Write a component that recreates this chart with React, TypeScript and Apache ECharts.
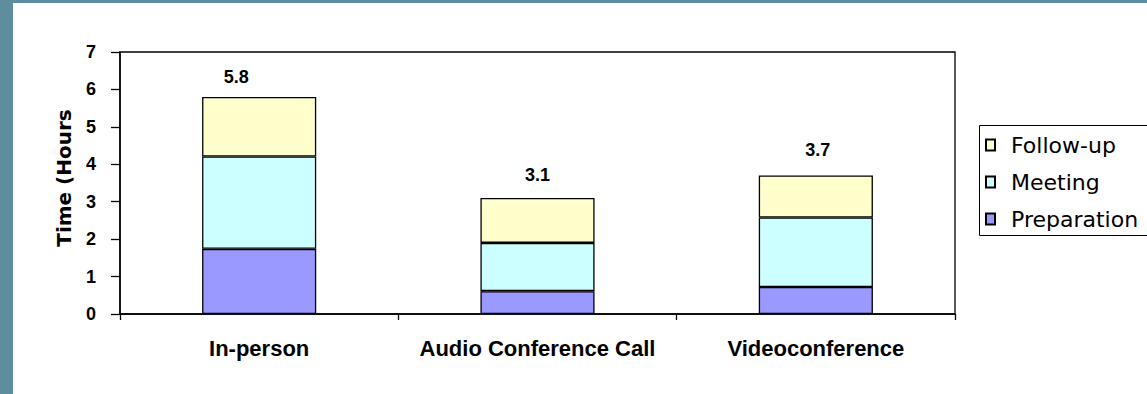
import React, { useEffect, useRef } from "react";
import * as echarts from "echarts";

// Time spent per meeting format, in hours
const categories = ["In-person", "Audio Conference Call", "Videoconference"];
const preparation = [1.74, 0.61, 0.72];
const meeting = [2.47, 1.29, 1.86];
const followUp = [1.59, 1.2, 1.12];
const yTicks = [0, 7, 1]; // min, max, interval

const totals = categories.map((_, i) => preparation[i] + meeting[i] + followUp[i]);

const W = 1147;
const H = 394;

export default function App() {
  const ref = useRef<HTMLDivElement>(null);

  useEffect(() => {
    if (!ref.current) return;
    const chart = echarts.init(ref.current, null, { renderer: "svg" });

    const barBorder = { borderColor: "#000", borderWidth: 1.3 };
    // per-bar placement of the total labels
    const labelDistance = [11, 14, 17];
    const labelOffset = [[-23, 0], [0, 0], [2, 0]];

    chart.setOption({
      animation: false,
      backgroundColor: "#fff",
      graphic: [
        { type: "rect", left: 0, top: 0, shape: { width: W, height: 3 }, style: { fill: "#5e8e9e" }, silent: true },
        { type: "rect", left: 0, top: 0, shape: { width: 13, height: H }, style: { fill: "#5e8e9e" }, silent: true },
        // legend frame, running off the right edge
        {
          type: "rect",
          x: 979.5,
          y: 125.5,
          shape: { width: 220, height: 110 },
          style: { fill: "none", stroke: "#000", lineWidth: 1 },
          silent: true,
          z: 10,
        },
      ],
      grid: {
        left: 120,
        right: W - 955,
        top: 52,
        bottom: H - 314,
        show: true,
        borderColor: "#000",
        borderWidth: 1.3,
        backgroundColor: "transparent",
      },
      legend: {
        data: ["Follow-up", "Meeting", "Preparation"],
        orient: "vertical",
        left: 979,
        top: 125,
        padding: [9, 0, 5, 6],
        itemWidth: 9,
        itemHeight: 11,
        itemGap: 15,
        icon: "rect",
        textStyle: {
          fontFamily: "DejaVu Sans",
          fontSize: 22,
          lineHeight: 22,
          color: "#000",
          padding: [0, 0, 0, 11],
        },
      },
      xAxis: {
        type: "category",
        data: categories,
        axisLine: { lineStyle: { color: "#000", width: 1.5 } },
        axisTick: { show: true, alignWithLabel: false, length: 6, lineStyle: { color: "#000", width: 1.3 } },
        axisLabel: {
          interval: 0,
          margin: 23,
          color: "#000",
          fontFamily: "Liberation Sans",
          fontWeight: "bold",
          fontSize: 22,
        },
      },
      yAxis: {
        type: "value",
        min: yTicks[0],
        max: yTicks[1],
        interval: yTicks[2],
        name: "Time (Hours",
        nameLocation: "middle",
        nameGap: 46,
        nameTextStyle: {
          fontFamily: "DejaVu Sans",
          fontWeight: "bold",
          fontSize: 20,
          color: "#000",
          padding: [0, 0, 0, 10],
        },
        splitLine: { show: false },
        axisLine: { show: true, lineStyle: { color: "#000", width: 1.5 } },
        axisTick: { show: true, length: 9, lineStyle: { color: "#000", width: 1.3 } },
        axisLabel: {
          margin: 24,
          color: "#000",
          fontFamily: "Liberation Sans",
          fontWeight: "bold",
          fontSize: 18,
        },
      },
      series: [
        {
          name: "Preparation",
          type: "bar",
          stack: "time",
          barWidth: "41%",
          data: preparation,
          itemStyle: { color: "#9999ff", ...barBorder },
        },
        {
          name: "Meeting",
          type: "bar",
          stack: "time",
          barWidth: "41%",
          data: meeting,
          itemStyle: { color: "#ccffff", ...barBorder },
        },
        {
          name: "Follow-up",
          type: "bar",
          stack: "time",
          barWidth: "41%",
          itemStyle: { color: "#ffffcc", ...barBorder },
          data: followUp.map((v, i) => ({
            value: v,
            label: {
              show: true,
              position: "top",
              distance: labelDistance[i],
              offset: labelOffset[i],
              formatter: () => totals[i].toFixed(1),
              fontFamily: "Liberation Sans",
              fontWeight: "bold",
              fontSize: 18,
              color: "#000",
            },
          })),
        },
      ],
    });

    return () => chart.dispose();
  }, []);

  return (
    <div
      ref={ref}
      style={{ position: "absolute", left: 0, top: 0, width: W, height: H }}
    />
  );
}
